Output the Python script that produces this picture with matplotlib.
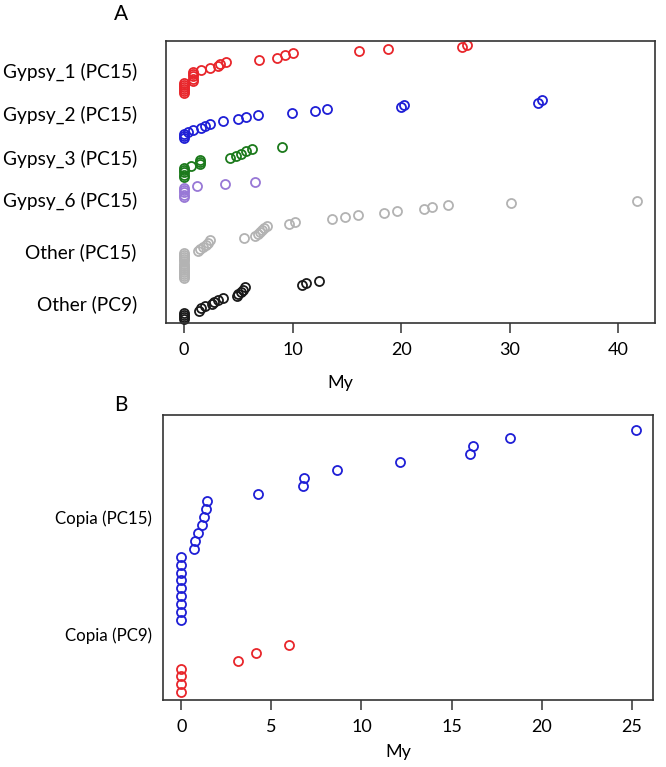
import numpy as np
import matplotlib
matplotlib.use('Agg')
import matplotlib.pyplot as plt

plt.rcParams['font.family'] = ['Lato', 'DejaVu Sans']

# Panel A : edades (My) de cada grupo, ordenadas
gypsy1_pc15 = [0, 0, 0, 0, 0, 0, 0.83, 0.83, 0.83, 0.83, 0.83, 1.6, 2.36, 3.1, 3.3,
               3.9, 6.9, 8.6, 9.3, 10.0, 16.1, 18.8, 25.6, 26.1]
gypsy2_pc15 = [0, 0, 0, 0.4, 0.83, 1.6, 1.9, 2.36, 3.6, 5.0, 5.7, 6.8, 9.9, 12.1,
               13.2, 20.0, 20.3, 32.6, 33.0]
gypsy3_pc15 = [0, 0, 0, 0, 0, 0.68, 1.45, 1.45, 1.45, 4.2, 4.8, 5.2, 5.7, 6.3, 9.0]
gypsy6_pc15 = [0, 0, 0, 0, 0, 1.2, 3.8, 6.5]
other_pc15 = [0, 0, 0, 0, 0, 0, 0, 0, 0, 0, 0, 0, 0, 1.3, 1.46, 1.74, 2.05, 2.2,
              2.36, 5.5, 6.5, 6.8, 7.0, 7.2, 7.4, 7.6, 9.7, 10.2, 13.6, 14.8, 16.0,
              18.4, 19.6, 22.1, 22.8, 24.3, 30.1, 41.7]
other_pc9 = [0, 0, 0, 0, 1.4, 1.6, 1.9, 2.6, 2.8, 3.1, 3.6, 4.9, 5.0, 5.2, 5.4,
             5.6, 10.9, 11.2, 12.4]

labels_a = ['Gypsy_1 (PC15)', 'Gypsy_2 (PC15)', 'Gypsy_3 (PC15)', 'Gypsy_6 (PC15)',
            'Other (PC15)', 'Other (PC9)']

# Panel B
copia_pc15 = [0, 0, 0, 0, 0, 0, 0, 0, 0, 0.72, 0.76, 0.91, 1.13, 1.28, 1.36, 1.44,
              4.28, 6.73, 6.8, 8.63, 12.15, 16.0, 16.2, 18.26, 25.24]
copia_pc9 = [0, 0, 0, 0, 3.17, 4.15, 6.0]

labels_b = ['Copia (PC15)', 'Copia (PC9)']

# colores tipo R
c_red = '#e8262b'
c_blue = '#1f1fd6'
c_green = '#1c7a1c'
c_purple = '#9878d6'
c_gray = '#b3b3b3'
c_black = '#1a1a1a'


def tira(ax, valores, base, paso, color):
    '''Dibuja los puntos ordenados, cada uno un poco mas arriba'''
    v = np.sort(np.array(valores, dtype=float))
    y = base + np.arange(len(v)) * paso
    ax.plot(v, y, 'o', mfc='none', mec=color, ms=6.5, mew=1.3, clip_on=False)


def estilo(ax):
    for s in ax.spines.values():
        s.set_linewidth(1.2)
        s.set_color('#333333')
    ax.tick_params(axis='x', length=7, width=1.1, color='#333333',
                   labelsize=13, pad=7)
    ax.tick_params(axis='y', length=0)


fig = plt.figure(figsize=(6.66, 7.67), dpi=100)

# ---------- Panel A ----------
axA = fig.add_axes([0.2492, 0.5789, 0.7342, 0.3677])
pasoA = 2.1
grupos_a = [(gypsy1_pc15, 229.7, c_red), (gypsy2_pc15, 184.7, c_blue),
            (gypsy3_pc15, 146.3, c_green), (gypsy6_pc15, 126.3, c_purple),
            (other_pc15, 44.7, c_gray), (other_pc9, 4.0, c_black)]
for vals, base, col in grupos_a:
    tira(axA, vals, base, pasoA, col)

axA.set_xlim(-1.67, 43.37)
axA.set_ylim(0, 282)
axA.set_xticks([0, 10, 20, 30, 40])
axA.set_yticks([252.3, 210, 166, 124, 72, 20])
axA.set_yticklabels(labels_a)
estilo(axA)
axA.tick_params(axis='y', pad=21, labelsize=13.8)
axA.set_xlabel('My', fontsize=13, va='center')
axA.xaxis.set_label_coords(0.356, -0.213)

# ---------- Panel B ----------
axB = fig.add_axes([0.2452, 0.0874, 0.7357, 0.3716])
pasoB = 7.9
tira(axB, copia_pc15, 80, pasoB, c_blue)
tira(axB, copia_pc9, 7.7, pasoB, c_red)

axB.set_xlim(-1.0, 26.2)
axB.set_ylim(0, 285)
axB.set_xticks([0, 5, 10, 15, 20, 25])
axB.set_yticks([183, 66])
axB.set_yticklabels(labels_b)
estilo(axB)
axB.tick_params(axis='y', pad=8, labelsize=12.2)
axB.set_xlabel('My', fontsize=13, va='center')
axB.xaxis.set_label_coords(0.479, -0.181)

fig.text(121 / 666, 1 - 14 / 767, 'A', fontsize=15, ha='center', va='center')
fig.text(121 / 666, 1 - 405 / 767, 'B', fontsize=15, ha='center', va='center')

fig.savefig('out.png', dpi=100)
